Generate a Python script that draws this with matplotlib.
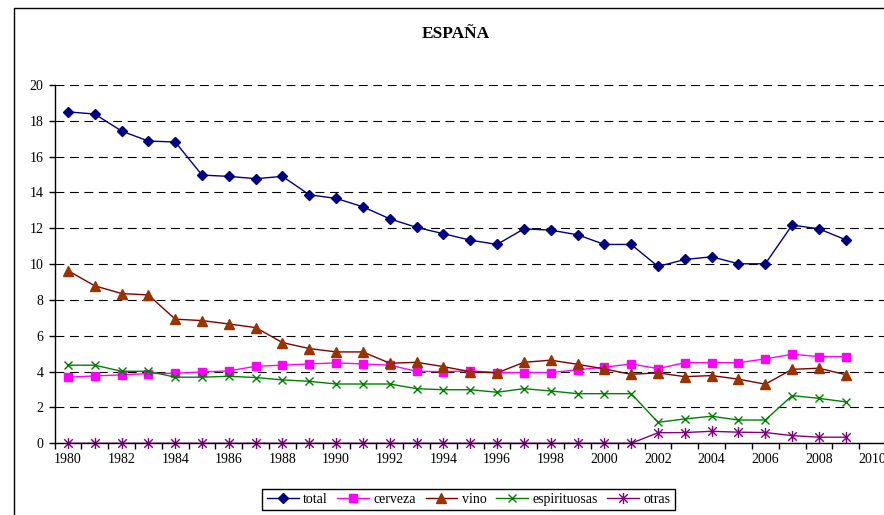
import numpy as np
import matplotlib
matplotlib.use("Agg")
import matplotlib.pyplot as plt
from matplotlib.path import Path
from matplotlib.patches import Rectangle

plt.rcParams['font.family'] = ['Liberation Serif', 'DejaVu Serif']

# data
years = list(range(1980, 2010))
total = [18.5, 18.38, 17.43, 16.87, 16.82, 14.97, 14.9, 14.77, 14.9, 13.87,
         13.67, 13.2, 12.53, 12.05, 11.7, 11.34, 11.1, 11.97, 11.9, 11.64,
         11.1, 11.1, 9.87, 10.26, 10.41, 10.02, 10.02, 12.18, 11.97, 11.36]
cerveza = [3.69, 3.76, 3.82, 3.89, 3.91, 3.98, 4.04, 4.3, 4.36, 4.43,
           4.49, 4.43, 4.36, 4.02, 4.0, 4.04, 3.95, 3.95, 3.95, 4.1,
           4.25, 4.43, 4.17, 4.5, 4.5, 4.5, 4.71, 4.97, 4.84, 4.84]
vino = [9.64, 8.79, 8.36, 8.28, 6.93, 6.85, 6.66, 6.46, 5.62, 5.29,
        5.1, 5.1, 4.47, 4.52, 4.28, 4.0, 3.93, 4.52, 4.64, 4.41,
        4.15, 3.85, 3.93, 3.72, 3.78, 3.58, 3.3, 4.13, 4.19, 3.83]
espirituosas = [4.36, 4.36, 4.02, 4.02, 3.69, 3.69, 3.74, 3.67, 3.54, 3.46,
                3.31, 3.31, 3.31, 3.05, 2.99, 2.99, 2.85, 3.05, 2.92, 2.77,
                2.77, 2.77, 1.17, 1.36, 1.51, 1.3, 1.3, 2.66, 2.51, 2.31]
otras = [0] * 22 + [0.59, 0.6, 0.67, 0.62, 0.6, 0.43, 0.34, 0.34]

labels = ['total', 'cerveza', 'vino', 'espirituosas', 'otras']
x_labels = [str(y) for y in range(1980, 2011, 2)]

# excel-like star marker (x with vertical bar)
star = Path([(-1, -1), (1, 1), (-1, 1), (1, -1), (0, -1.3), (0, 1.3)],
            [Path.MOVETO, Path.LINETO, Path.MOVETO, Path.LINETO, Path.MOVETO, Path.LINETO])

W, H = 884, 515
fig = plt.figure(figsize=(W / 100, H / 100), dpi=100)

# outer chart frame, cut at right and bottom
fig.patches.append(Rectangle((14 / W, -0.1), 1.2, 1 - 8 / H + 0.1, transform=fig.transFigure,
                             fill=False, edgecolor='black', linewidth=1.0))

ax = fig.add_axes([54.5 / W, 1 - 443.3 / H, (886 - 54.5) / W, (443.3 - 85) / H])

ax.plot(years, total, color='#000080', lw=1.0, marker='D', ms=5.5, label=labels[0], clip_on=False)
ax.plot(years, cerveza, color='#FF00FF', lw=1.0, marker='s', ms=5.5, label=labels[1], clip_on=False)
ax.plot(years, vino, color='#800000', lw=1.0, marker='^', ms=6.5, mfc='#993300', mec='#993300',
        label=labels[2], clip_on=False)
ax.plot(years, espirituosas, color='#008000', lw=1.0, marker='x', ms=6, mew=1.0, label=labels[3],
        clip_on=False)
ax.plot(years, otras, color='#800080', lw=1.0, marker=star, ms=8, mew=1.0, label=labels[4],
        clip_on=False)

ax.set_xlim(1979.5, 2010.5)
ax.set_ylim(0, 20)
ax.set_yticks(np.arange(0, 21, 2))
ax.set_xticks(range(1980, 2011, 2))
ax.set_xticklabels(x_labels)
ax.set_xticks(np.arange(1979.5, 2011, 1), minor=True)

ax.yaxis.grid(True, color='black', lw=0.8, linestyle=(0, (8, 5)))
ax.set_axisbelow(True)
for s in ['top', 'right']:
    ax.spines[s].set_visible(False)
for s in ['left', 'bottom']:
    ax.spines[s].set_linewidth(1.0)

ax.tick_params(axis='y', direction='out', length=4, width=1, pad=4, labelsize=10)
ax.tick_params(axis='x', which='major', length=0, pad=7, labelsize=10)
ax.tick_params(axis='x', which='minor', direction='out', length=4, width=1)

fig.text(456 / W, 1 - 34 / H, 'ESPAÑA', ha='center', va='center', fontsize=12.5, fontweight='bold')

fig.legend(loc='upper center', bbox_to_anchor=(468.5 / W, 1 - 489 / H), ncol=5,
           fontsize=10, frameon=True, fancybox=False, edgecolor='black', framealpha=1,
           handlelength=2.3, handletextpad=0.3, columnspacing=0.7, borderpad=0.3,
           borderaxespad=0)

fig.savefig('out.png', dpi=100)
